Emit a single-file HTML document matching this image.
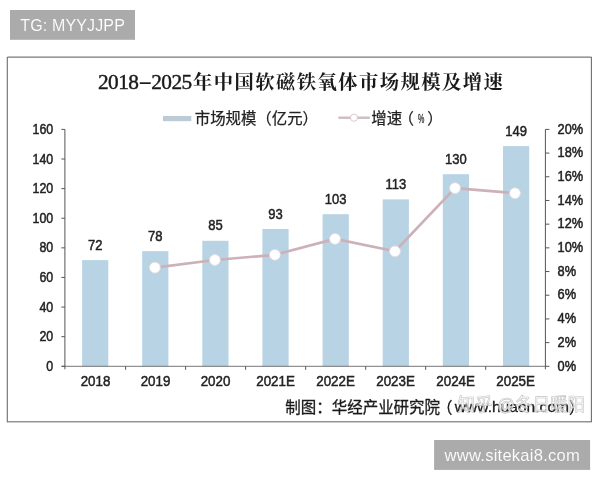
<!DOCTYPE html>
<html lang="zh-CN">
<head>
<meta charset="utf-8">
<title>2018-2025年中国软磁铁氧体市场规模及增速</title>
<style>
html,body{margin:0;padding:0;background:#fff;}
body{width:600px;height:480px;overflow:hidden;position:relative;}
svg{position:absolute;left:0;top:0;display:block;filter:blur(0.4px);}
.sans{font-family:"Liberation Sans","Noto Sans CJK SC",sans-serif;}
.serif{font-family:"Liberation Serif","Noto Serif CJK SC",serif;}
</style>
</head>
<body>
<svg width="600" height="480" viewBox="0 0 600 480">

<rect x="10" y="10" width="125" height="29.8" fill="#ababab"/>
<text class="sans" x="20.2" y="30.6" font-size="16" fill="#fff" stroke="#ababab" stroke-width="0.12" textLength="104.6" lengthAdjust="spacing">TG: MYYJJPP</text>
<rect x="7.3" y="57.3" width="584.1" height="364.5" fill="#fff" stroke="#6e6e6e" stroke-width="1.1"/>
<line x1="8" y1="57.1" x2="590.8" y2="57.1" stroke="#a0a0a0" stroke-width="1.3"/>
<g class="serif" font-size="21.3" fill="#1a1a1a" stroke="#1a1a1a" stroke-width="0.45">
<text x="97.9" y="89" textLength="41" lengthAdjust="spacing">2018</text>
<text transform="translate(145.2,88) scale(1.9,1)" text-anchor="middle" stroke-width="0.2">-</text>
<text x="151.2" y="89" textLength="41" lengthAdjust="spacing">2025</text>
</g>
<text class="serif" x="192.9" y="88.5" font-size="19.3" font-weight="bold" fill="#1a1a1a" textLength="310" lengthAdjust="spacing">年中国软磁铁氧体市场规模及增速</text>
<rect x="163" y="116" width="28.3" height="5.2" fill="#bccbd6"/>
<text class="sans" x="194.8" y="124" font-size="15.4" fill="#222" stroke="#222" stroke-width="0.25">市场规模（亿元）</text>
<line x1="338.4" y1="117.7" x2="369.8" y2="117.7" stroke="#cdbcc0" stroke-width="2.4"/>
<circle cx="354" cy="117.7" r="3.6" fill="#fff" stroke="#d6c4c8" stroke-width="0.9"/>
<g class="sans" font-size="15.4" fill="#222" stroke="#222" stroke-width="0.25">
<text x="371.3" y="124">增速</text>
<text x="398.6" y="124">（</text>
<text transform="translate(421.2,122.6) scale(0.55,1)" text-anchor="middle" font-size="13">%</text>
<text x="427.2" y="124">）</text>
</g>
<rect x="82.1" y="260.1" width="26.2" height="106.2" fill="#b8d3e4"/>
<rect x="142.2" y="251.2" width="26.2" height="115.1" fill="#b8d3e4"/>
<rect x="202.3" y="240.8" width="26.2" height="125.5" fill="#b8d3e4"/>
<rect x="262.4" y="229.0" width="26.2" height="137.3" fill="#b8d3e4"/>
<rect x="322.6" y="214.2" width="26.2" height="152.1" fill="#b8d3e4"/>
<rect x="382.7" y="199.4" width="26.2" height="166.9" fill="#b8d3e4"/>
<rect x="442.8" y="174.2" width="26.2" height="192.1" fill="#b8d3e4"/>
<rect x="503.0" y="146.1" width="26.2" height="220.2" fill="#b8d3e4"/>
<g stroke="#555555" stroke-width="1" fill="none">
<line x1="64.9" y1="129.4" x2="64.9" y2="369.3"/>
<line x1="545.4" y1="129.4" x2="545.4" y2="369.3"/>
<line x1="61.900000000000006" y1="366.3" x2="545.4" y2="366.3" stroke-width="0.8"/>
<line x1="61.400000000000006" y1="366.30" x2="64.9" y2="366.30"/>
<line x1="61.400000000000006" y1="336.69" x2="64.9" y2="336.69"/>
<line x1="61.400000000000006" y1="307.07" x2="64.9" y2="307.07"/>
<line x1="61.400000000000006" y1="277.46" x2="64.9" y2="277.46"/>
<line x1="61.400000000000006" y1="247.85" x2="64.9" y2="247.85"/>
<line x1="61.400000000000006" y1="218.24" x2="64.9" y2="218.24"/>
<line x1="61.400000000000006" y1="188.62" x2="64.9" y2="188.62"/>
<line x1="61.400000000000006" y1="159.01" x2="64.9" y2="159.01"/>
<line x1="61.400000000000006" y1="129.40" x2="64.9" y2="129.40"/>
<line x1="545.4" y1="366.30" x2="549.4" y2="366.30"/>
<line x1="545.4" y1="342.61" x2="549.4" y2="342.61"/>
<line x1="545.4" y1="318.92" x2="549.4" y2="318.92"/>
<line x1="545.4" y1="295.23" x2="549.4" y2="295.23"/>
<line x1="545.4" y1="271.54" x2="549.4" y2="271.54"/>
<line x1="545.4" y1="247.85" x2="549.4" y2="247.85"/>
<line x1="545.4" y1="224.16" x2="549.4" y2="224.16"/>
<line x1="545.4" y1="200.47" x2="549.4" y2="200.47"/>
<line x1="545.4" y1="176.78" x2="549.4" y2="176.78"/>
<line x1="545.4" y1="153.09" x2="549.4" y2="153.09"/>
<line x1="545.4" y1="129.40" x2="549.4" y2="129.40"/>
<line x1="125.6" y1="366.3" x2="125.6" y2="369.8"/>
<line x1="185.6" y1="366.3" x2="185.6" y2="369.8"/>
<line x1="245.6" y1="366.3" x2="245.6" y2="369.8"/>
<line x1="305.7" y1="366.3" x2="305.7" y2="369.8"/>
<line x1="365.7" y1="366.3" x2="365.7" y2="369.8"/>
<line x1="425.7" y1="366.3" x2="425.7" y2="369.8"/>
<line x1="485.7" y1="366.3" x2="485.7" y2="369.8"/>
</g>
<g class="sans" fill="#222" stroke="#222" stroke-width="0.48">
<text transform="translate(53.20,370.80) scale(0.9,1)" text-anchor="end" font-size="13.8">0</text>
<text transform="translate(53.20,341.19) scale(0.9,1)" text-anchor="end" font-size="13.8">20</text>
<text transform="translate(53.20,311.57) scale(0.9,1)" text-anchor="end" font-size="13.8">40</text>
<text transform="translate(53.20,281.96) scale(0.9,1)" text-anchor="end" font-size="13.8">60</text>
<text transform="translate(53.20,252.35) scale(0.9,1)" text-anchor="end" font-size="13.8">80</text>
<text transform="translate(53.20,222.74) scale(0.9,1)" text-anchor="end" font-size="13.8">100</text>
<text transform="translate(53.20,193.12) scale(0.9,1)" text-anchor="end" font-size="13.8">120</text>
<text transform="translate(53.20,163.51) scale(0.9,1)" text-anchor="end" font-size="13.8">140</text>
<text transform="translate(53.20,133.90) scale(0.9,1)" text-anchor="end" font-size="13.8">160</text>
<text transform="translate(557.60,370.50) scale(0.93,1)" text-anchor="start" font-size="13.8">0%</text>
<text transform="translate(557.60,346.81) scale(0.93,1)" text-anchor="start" font-size="13.8">2%</text>
<text transform="translate(557.60,323.12) scale(0.93,1)" text-anchor="start" font-size="13.8">4%</text>
<text transform="translate(557.60,299.43) scale(0.93,1)" text-anchor="start" font-size="13.8">6%</text>
<text transform="translate(557.60,275.74) scale(0.93,1)" text-anchor="start" font-size="13.8">8%</text>
<text transform="translate(557.60,252.05) scale(0.93,1)" text-anchor="start" font-size="13.8">10%</text>
<text transform="translate(557.60,228.36) scale(0.93,1)" text-anchor="start" font-size="13.8">12%</text>
<text transform="translate(557.60,204.67) scale(0.93,1)" text-anchor="start" font-size="13.8">14%</text>
<text transform="translate(557.60,180.98) scale(0.93,1)" text-anchor="start" font-size="13.8">16%</text>
<text transform="translate(557.60,157.29) scale(0.93,1)" text-anchor="start" font-size="13.8">18%</text>
<text transform="translate(557.60,133.60) scale(0.93,1)" text-anchor="start" font-size="13.8">20%</text>
<text transform="translate(95.51,385.70) scale(0.955,1)" text-anchor="middle" font-size="14">2018</text>
<text transform="translate(155.52,385.70) scale(0.955,1)" text-anchor="middle" font-size="14">2019</text>
<text transform="translate(215.53,385.70) scale(0.955,1)" text-anchor="middle" font-size="14">2020</text>
<text transform="translate(275.54,385.70) scale(0.955,1)" text-anchor="middle" font-size="14">2021E</text>
<text transform="translate(335.56,385.70) scale(0.955,1)" text-anchor="middle" font-size="14">2022E</text>
<text transform="translate(395.57,385.70) scale(0.955,1)" text-anchor="middle" font-size="14">2023E</text>
<text transform="translate(455.58,385.70) scale(0.955,1)" text-anchor="middle" font-size="14">2024E</text>
<text transform="translate(515.59,385.70) scale(0.955,1)" text-anchor="middle" font-size="14">2025E</text>
<text transform="translate(95.15,249.60) scale(0.93,1)" text-anchor="middle" font-size="14">72</text>
<text transform="translate(155.28,240.71) scale(0.93,1)" text-anchor="middle" font-size="14">78</text>
<text transform="translate(215.41,230.35) scale(0.93,1)" text-anchor="middle" font-size="14">85</text>
<text transform="translate(275.54,218.50) scale(0.93,1)" text-anchor="middle" font-size="14">93</text>
<text transform="translate(335.67,203.70) scale(0.93,1)" text-anchor="middle" font-size="14">103</text>
<text transform="translate(395.80,188.89) scale(0.93,1)" text-anchor="middle" font-size="14">113</text>
<text transform="translate(455.93,163.72) scale(0.93,1)" text-anchor="middle" font-size="14">130</text>
<text transform="translate(516.06,135.59) scale(0.93,1)" text-anchor="middle" font-size="14">149</text>
</g>
<polyline points="154.9,267.6 214.9,260.0 274.9,254.8 335.0,238.9 395.0,251.3 455.0,188.1 515.0,193.2" fill="none" stroke="#ccb2b8" stroke-width="2.7" stroke-linejoin="round"/>
<circle cx="154.9" cy="267.6" r="5.4" fill="#fff" stroke="#eadde0" stroke-width="0.8"/>
<circle cx="214.9" cy="260.0" r="5.4" fill="#fff" stroke="#eadde0" stroke-width="0.8"/>
<circle cx="274.9" cy="254.8" r="5.4" fill="#fff" stroke="#eadde0" stroke-width="0.8"/>
<circle cx="335.0" cy="238.9" r="5.4" fill="#fff" stroke="#eadde0" stroke-width="0.8"/>
<circle cx="395.0" cy="251.3" r="5.4" fill="#fff" stroke="#eadde0" stroke-width="0.8"/>
<circle cx="455.0" cy="188.1" r="5.4" fill="#fff" stroke="#eadde0" stroke-width="0.8"/>
<circle cx="515.0" cy="193.2" r="5.4" fill="#fff" stroke="#eadde0" stroke-width="0.8"/>
<g class="sans" font-size="15.9" fill="#1a1a1a" stroke="#1a1a1a" stroke-width="0.3">
<text transform="translate(285.2,412.6) scale(0.975,1)">制图：华经产业研究院</text>
<text transform="translate(437.0,412.6) scale(0.975,1)">（</text>
<text transform="translate(454.8,411.6) scale(1.105,1)" font-size="14.1">www.huaon.com</text>
<text transform="translate(569,412.6) scale(0.975,1)">）</text>
</g>
<text class="sans" transform="translate(457.6,410.6) scale(0.97,1)" font-size="18" fill="#fff" fill-opacity="0.7" stroke="#c2c2c2" stroke-width="0.6">知乎 @冬日暖阳</text>
<rect x="434.1" y="440" width="156" height="29.9" fill="#ababab"/>
<text class="sans" x="444.6" y="460.6" font-size="16.6" fill="#fff" stroke="#ababab" stroke-width="0.12" textLength="135.2" lengthAdjust="spacing">www.sitekai8.com</text>
</svg>
</body>
</html>
